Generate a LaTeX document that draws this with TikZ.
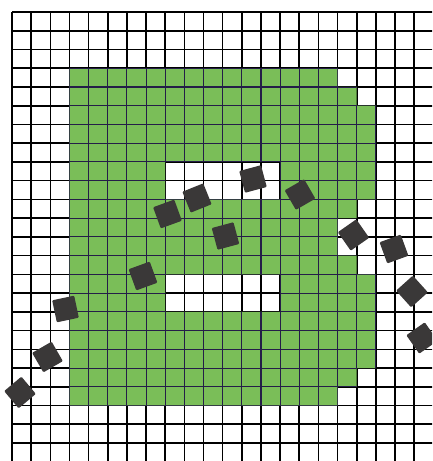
\documentclass[tikz,border=0pt]{standalone}
\usepackage{tikz}
\definecolor{cellgreen}{RGB}{122,190,88}
\definecolor{darkchip}{RGB}{58,56,56}
\definecolor{innerline}{RGB}{36,30,72}
\tikzset{
  gridline/.style={black, line width=1.6pt},
  innergrid/.style={innerline, line width=1.1pt},
  chip/.style={rectangle, fill=darkchip, draw=none, minimum size=22.5pt, inner sep=0pt, rounded corners=1pt},
}
\begin{document}
\begin{tikzpicture}[x=1pt,y=-1pt]
\useasboundingbox (0,0) rectangle (432,461);
\fill[white] (0,0) rectangle (432,461);
\clip (0,0) rectangle (432,461);
\begin{scope}[shift={(12pt,-12pt)}, x=19.15pt, y=-18.74pt]
  % black grid
  \foreach \i in {0,...,22} \draw[gridline] (\i,0) -- (\i,24.5);
  \foreach \j in {0,...,24} \draw[gridline] (0,\j) -- (22.5,\j);
  % green region
  \def\greenpath{(3,3) -- (17,3) -- (17,4) -- (18,4) -- (18,5) -- (19,5) -- (19,10) -- (18,10) -- (18,11) -- (17,11) -- (17,13) -- (18,13) -- (18,14) -- (19,14) -- (19,19) -- (18,19) -- (18,20) -- (17,20) -- (17,21) -- (3,21) -- cycle
    (8,8) -- (14,8) -- (14,10) -- (8,10) -- cycle
    (8,14) -- (14,14) -- (14,16) -- (8,16) -- cycle}
  \fill[cellgreen, even odd rule] \greenpath;
  \begin{scope}[even odd rule]
    \clip \greenpath;
    \foreach \i in {3,...,19} \draw[innergrid] (\i,3) -- (\i,21);
    \foreach \j in {3,...,21} \draw[innergrid] (3,\j) -- (19,\j);
  \end{scope}
\end{scope}
% dark chips
\node[chip, rotate=40] (d1) at (20,392.5) {};
\node[chip, rotate=30] (d2) at (47.5,357) {};
\node[chip, rotate=12] (d3) at (65.5,309) {};
\node[chip, rotate=20] (d4) at (143,276) {};
\node[chip, rotate=20] (d5) at (167.5,214) {};
\node[chip, rotate=22] (d6) at (197,198) {};
\node[chip, rotate=15] (d7) at (225.5,236) {};
\node[chip, rotate=15] (d8) at (253,179) {};
\node[chip, rotate=30] (d9) at (300,194.5) {};
\node[chip, rotate=35] (d10) at (353.5,235) {};
\node[chip, rotate=20] (d11) at (394,249) {};
\node[chip, rotate=42] (d12) at (412,291.5) {};
\node[chip, rotate=35] (d13) at (422,338) {};
\end{tikzpicture}
\end{document}
